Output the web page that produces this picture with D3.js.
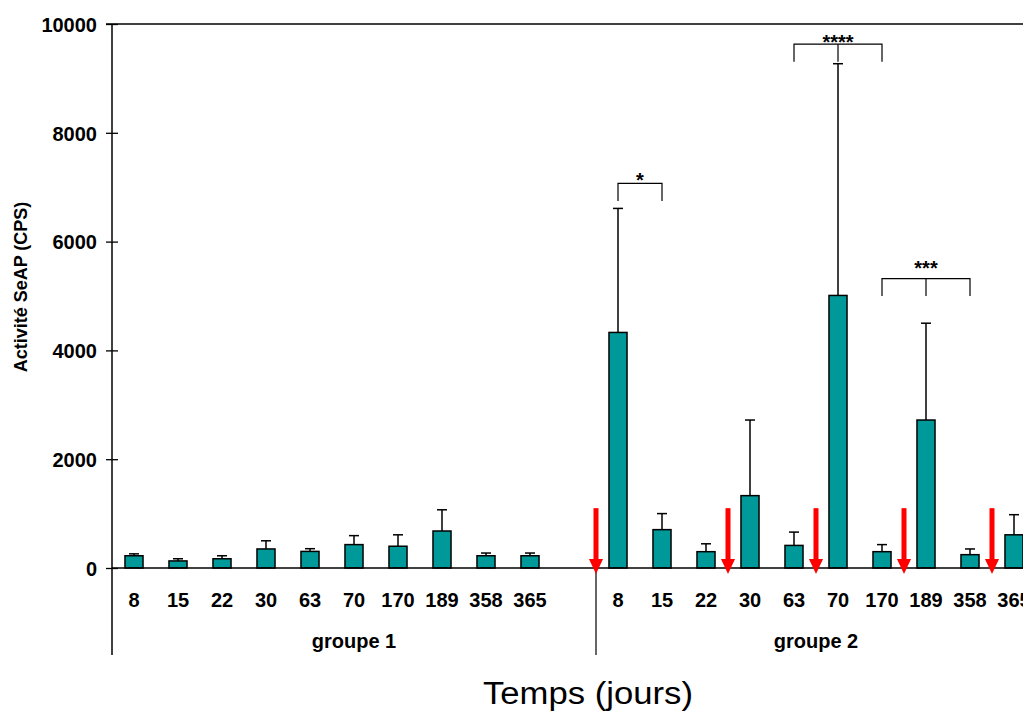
<!DOCTYPE html>
<html>
<head>
<meta charset="utf-8">
<script src="https://cdn.jsdelivr.net/npm/d3@7"></script>
<style>
  html, body { margin: 0; padding: 0; background: #fff; overflow: hidden; }
  svg { display: block; }
  text { font-family: "Liberation Sans", Arial, sans-serif; }
</style>
</head>
<body>
<svg id="chart" width="1023" height="713"></svg>
<script>
// ---------------- data ----------------
const days = [8, 15, 22, 30, 63, 70, 170, 189, 358, 365];
const groupNames = ["groupe 1", "groupe 2"];

const group1Means  = [225, 130, 170, 350, 305, 430, 400, 680, 225, 225];
const group1Errors = [35, 40, 55, 150, 50, 165, 210, 390, 50, 50];

const group2Means  = [4330, 705, 300, 1330, 415, 5010, 300, 2720, 245, 610];
const group2Errors = [2280, 295, 145, 1390, 245, 4260, 130, 1780, 105, 370];

const yTicks = [0, 2000, 4000, 6000, 8000, 10000];

// injections (red arrows) : placed just before these days of groupe 2
const arrowDays = [8, 30, 70, 189, 365];
const arrowLevel = 1100;

// significance brackets (groupe 2)
const bracketFrom   = [8, 63, 170];
const bracketTo     = [15, 170, 358];
const bracketMid    = [null, 70, 189];
const bracketLevel  = [7070, 9630, 5320];
const bracketStarLv = [7240, 9760, 5610];
const bracketLabel  = ["*", "****", "***"];

const yTitle = "Activité SeAP (CPS)";
const xTitle = "Temps (jours)";

(function () {
// ---------------- layout ----------------
const svg = d3.select("#chart");
const pLeft = 112, pRight = 1036, pTop = 24, base = 568;
const teal = "#009999";

// slots : groupe 1 (10 days + one empty slot) then groupe 2 (10 days)
const slots = [];
days.forEach(d => slots.push("g1-" + d));
slots.push("g1-gap");
days.forEach(d => slots.push("g2-" + d));

const x = d3.scaleBand().domain(slots).range([pLeft, pRight])
  .paddingInner(0.59).paddingOuter(0.295);
const step = x.step();
const cx = k => x(k) + x.bandwidth() / 2;

const y = d3.scaleLinear().domain([0, 10000]).range([base, pTop]);

const bars = [];
days.forEach((d, i) => bars.push({key: "g1-" + d, day: d, mean: group1Means[i], err: group1Errors[i]}));
days.forEach((d, i) => bars.push({key: "g2-" + d, day: d, mean: group2Means[i], err: group2Errors[i]}));

// ---------------- axes / frame ----------------
svg.append("line").attr("x1", pLeft - 6).attr("x2", pRight + 40)
  .attr("y1", y(10000)).attr("y2", y(10000))
  .attr("stroke", "#000").attr("stroke-width", 1.5);

const yAxis = d3.axisLeft(y).tickValues(yTicks).tickSize(6).tickFormat(d3.format("d"));
const gy = svg.append("g").attr("transform", `translate(${pLeft},0)`).call(yAxis);
gy.select(".domain").remove();
gy.selectAll(".tick line").attr("x1", 6).attr("x2", -6).attr("stroke", "#000").attr("stroke-width", 1.3);
gy.selectAll(".tick text")
  .attr("x", -15).attr("dy", "0.36em")
  .attr("font-size", 20).attr("font-weight", "bold").attr("fill", "#000")
  .attr("font-family", "Liberation Sans, Arial, sans-serif");

svg.append("line").attr("x1", pLeft).attr("x2", pLeft)
  .attr("y1", pTop).attr("y2", 655)
  .attr("stroke", "#000").attr("stroke-width", 1.5);

const divX = x("g2-" + days[0]) - (step - x.bandwidth()) / 2;
svg.append("line").attr("x1", divX).attr("x2", divX)
  .attr("y1", base).attr("y2", 655)
  .attr("stroke", "#000").attr("stroke-width", 1.2);

// ---------------- bars ----------------
svg.append("g").selectAll("rect").data(bars).join("rect")
  .attr("x", d => x(d.key)).attr("width", x.bandwidth())
  .attr("y", d => y(d.mean)).attr("height", d => base - y(d.mean))
  .attr("fill", teal).attr("stroke", "#000").attr("stroke-width", 1.5);

const eg = svg.append("g").attr("stroke", "#000").attr("stroke-width", 1.5);
eg.selectAll("line.v").data(bars).join("line").attr("class", "v")
  .attr("x1", d => cx(d.key)).attr("x2", d => cx(d.key))
  .attr("y1", d => y(d.mean)).attr("y2", d => y(d.mean + d.err));
eg.selectAll("line.c").data(bars).join("line").attr("class", "c")
  .attr("x1", d => cx(d.key) - 5).attr("x2", d => cx(d.key) + 5)
  .attr("y1", d => y(d.mean + d.err)).attr("y2", d => y(d.mean + d.err));

svg.append("line").attr("x1", pLeft).attr("x2", pRight + 40)
  .attr("y1", base).attr("y2", base)
  .attr("stroke", "#000").attr("stroke-width", 1.5);

// ---------------- x labels ----------------
svg.append("g").selectAll("text").data(bars).join("text")
  .attr("x", d => cx(d.key)).attr("y", 606.5)
  .attr("text-anchor", "middle").attr("font-size", 20).attr("font-weight", "bold")
  .text(d => d.day);

svg.append("text").attr("x", (pLeft + divX) / 2).attr("y", 648)
  .attr("text-anchor", "middle").attr("font-size", 20).attr("font-weight", "bold")
  .text(groupNames[0]);
svg.append("text").attr("x", (divX + pRight) / 2).attr("y", 648)
  .attr("text-anchor", "middle").attr("font-size", 20).attr("font-weight", "bold")
  .text(groupNames[1]);

// ---------------- red arrows ----------------
const ag = svg.append("g").attr("fill", "#ff0000");
arrowDays.forEach(d => {
  const k = "g2-" + d;
  const ax = x(k) - (step - x.bandwidth()) / 2;
  const yTop = y(arrowLevel), yTip = base + 6, headH = 15;
  ag.append("rect").attr("x", ax - 2.5).attr("width", 5)
    .attr("y", yTop).attr("height", yTip - headH - yTop + 1);
  ag.append("path").attr("d", `M${ax - 7},${yTip - headH} L${ax + 7},${yTip - headH} L${ax},${yTip} Z`);
});

// ---------------- significance brackets ----------------
const bg = svg.append("g").attr("stroke", "#000").attr("stroke-width", 1.2).attr("fill", "none");
const legLen = 17.5;
bracketFrom.forEach((f, i) => {
  const x1 = cx("g2-" + f), x2 = cx("g2-" + bracketTo[i]);
  const by = y(bracketLevel[i]);
  bg.append("path").attr("d", `M${x1},${by + legLen} L${x1},${by} L${x2},${by} L${x2},${by + legLen}`);
  let mx = (x1 + x2) / 2;
  if (bracketMid[i] !== null) {
    mx = cx("g2-" + bracketMid[i]);
    bg.append("line").attr("x1", mx).attr("x2", mx).attr("y1", by).attr("y2", by + legLen);
  }
  svg.append("text").attr("x", mx).attr("y", y(bracketStarLv[i]))
    .attr("dy", "0.62em")
    .attr("text-anchor", "middle").attr("font-size", 20).attr("font-weight", "bold")
    .text(bracketLabel[i]);
});

// ---------------- titles ----------------
svg.append("text")
  .attr("transform", `translate(27,287) rotate(-90)`)
  .attr("text-anchor", "middle").attr("font-size", 18).attr("font-weight", "bold")
  .text(yTitle);

svg.append("text").attr("x", 588).attr("y", 704)
  .attr("text-anchor", "middle").attr("font-size", 31)
  .attr("textLength", 210).attr("lengthAdjust", "spacingAndGlyphs")
  .text(xTitle);
})();
</script>
</body>
</html>
